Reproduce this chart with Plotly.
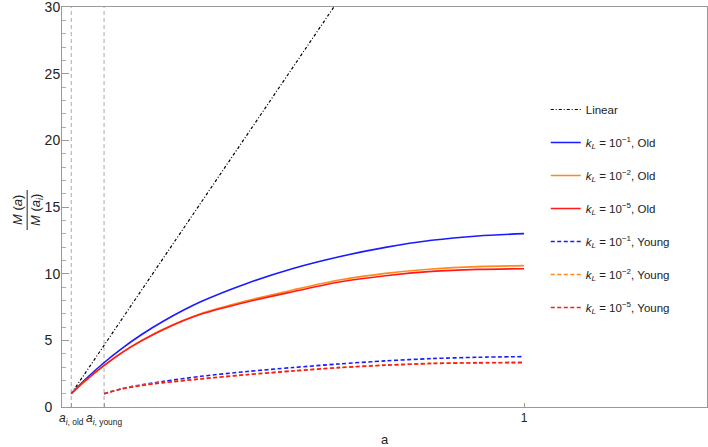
import plotly.graph_objects as go

# ---- data ----
a_old = 0.02
a_young = 0.091

a_lin = [0.02, 1.0]
m_lin = [1.0, 51.0]

a_old_grid = [0.02, 0.05, 0.09, 0.13, 0.17, 0.22, 0.3, 0.4, 0.5, 0.6, 0.7, 0.8, 0.9, 1.0]
m_old_k1 = [1.0, 2.05, 3.3, 4.4, 5.38, 6.45, 7.89, 9.27, 10.39, 11.27, 11.97, 12.5, 12.83, 13.0]
m_old_k2 = [1.0, 1.96, 3.09, 4.1, 4.95, 5.86, 7.0, 7.97, 8.78, 9.52, 10.02, 10.35, 10.53, 10.6]
m_old_k5 = [1.0, 1.95, 3.08, 4.08, 4.92, 5.82, 6.95, 7.88, 8.65, 9.38, 9.85, 10.17, 10.32, 10.37]

a_young_grid = [0.091, 0.13, 0.17, 0.22, 0.3, 0.4, 0.5, 0.6, 0.7, 0.8, 0.9, 1.0]
m_young_k1 = [1.0, 1.38, 1.65, 1.92, 2.3, 2.66, 2.96, 3.23, 3.46, 3.63, 3.73, 3.78]
m_young_k2 = [1.0, 1.37, 1.61, 1.84, 2.12, 2.44, 2.72, 2.97, 3.15, 3.28, 3.33, 3.35]
m_young_k5 = [1.0, 1.36, 1.6, 1.82, 2.1, 2.42, 2.7, 2.95, 3.13, 3.26, 3.31, 3.33]

x_tickvals = [a_old, a_young, 1.0]
x_ticktext = ["<i>a</i><sub><i>i</i>, old</sub>", "<i>a</i><sub><i>i</i>, young</sub>", "1"]
y_tickvals = [0, 5, 10, 15, 20, 25, 30]
y_ticktext = ["0\u2007", "5\u2007", "10", "15", "20", "25", "30"]

BLUE = "#1a1aff"
ORANGE = "#ff8a1a"
RED = "#ff1a1a"
FONT = "Liberation Sans, Arial, sans-serif"

def lab(p, kind):
    return "<i>k</i><sub><i>L</i></sub> = 10<sup>\u2212%d</sup>, %s" % (p, kind)

fig = go.Figure()
fig.add_trace(go.Scatter(x=a_lin, y=m_lin, mode="lines", name="Linear",
                         line=dict(color="black", width=1.2, dash="3px,2px,1px,2px"),
                         legendgroup="g0"))
for i, (ys, col, p) in enumerate([(m_old_k1, BLUE, 1), (m_old_k2, ORANGE, 2), (m_old_k5, RED, 5)]):
    fig.add_trace(go.Scatter(x=a_old_grid, y=ys, mode="lines", name=lab(p, "Old"),
                             line=dict(color=col, width=1.6, shape="spline", smoothing=0.8),
                             legendgroup="o%d" % i))
for i, (ys, col, p) in enumerate([(m_young_k1, BLUE, 1), (m_young_k2, ORANGE, 2), (m_young_k5, RED, 5)]):
    fig.add_trace(go.Scatter(x=a_young_grid, y=ys, mode="lines", name=lab(p, "Young"),
                             line=dict(color=col, width=1.6, shape="spline", smoothing=0.8, dash="4px,2.5px"),
                             legendgroup="y%d" % i))

# vertical dashed markers at the initial scale factors
for xv in [a_old, a_young]:
    fig.add_shape(type="line", xref="x", yref="y", x0=xv, x1=xv, y0=0, y1=30,
                  line=dict(color="#aaaaaa", width=1, dash="4px,3px"), layer="below")

# y-axis title as a fraction
fig.add_annotation(xref="paper", yref="paper", x=-0.0698, y=0.4925, xanchor="center", yanchor="middle",
                   showarrow=False, text="<i>M</i> (<i>a</i>)", textangle=-90,
                   font=dict(size=13, color="#222", family=FONT))
fig.add_annotation(xref="paper", yref="paper", x=-0.0403, y=0.4925, xanchor="center", yanchor="middle",
                   showarrow=False, text="<i>M</i> (<i>a</i><sub><i>i</i></sub>)", textangle=-90,
                   font=dict(size=13, color="#222", family=FONT))
fig.add_shape(type="line", xref="paper", yref="paper", x0=-0.054, x1=-0.054, y0=0.4425, y1=0.5425,
              line=dict(color="#222", width=1))

fig.update_layout(
    width=708, height=447,
    margin=dict(l=62, r=1, t=7, b=40, autoexpand=False),
    paper_bgcolor="white", plot_bgcolor="white",
    font=dict(family=FONT, size=13, color="#222"),
    legend=dict(x=0.75, y=0.78, xanchor="left", yanchor="top", bgcolor="rgba(0,0,0,0)",
                font=dict(size=11.5, family=FONT, color="#222"), tracegroupgap=14,
                itemwidth=30),
    showlegend=True,
)
fig.update_xaxes(range=[0, 1.396], tickvals=x_tickvals, ticktext=x_ticktext, tickangle=0,
                 automargin=False,
                 showgrid=False, zeroline=False, showline=True, linecolor="#999", linewidth=1,
                 mirror=True, ticks="inside", ticklen=4, tickcolor="#999",
                 title=dict(text="a", standoff=8, font=dict(size=13)),
                 tickfont=dict(size=12))
fig.update_yaxes(range=[0, 30], tickvals=y_tickvals, ticktext=y_ticktext, automargin=False,
                 ticklabeloverflow="allow",
                 showgrid=False, zeroline=False, showline=True, linecolor="#999", linewidth=1,
                 mirror=True, ticks="inside", ticklen=7, tickcolor="#999",
                 minor=dict(ticks="inside", ticklen=4, dtick=1, tickcolor="#aaa", showgrid=False),
                 tickfont=dict(size=14), ticklabelstandoff=-2)

fig.write_html("out.html", config={"displayModeBar": False},
               post_script="document.body.style.margin='0';document.body.style.overflow='hidden';")
